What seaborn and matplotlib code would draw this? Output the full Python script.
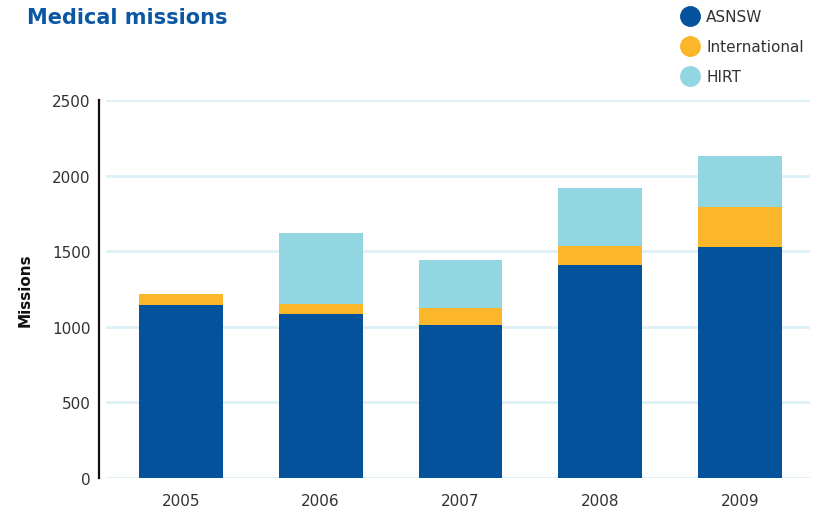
import numpy as np
import pandas as pd
import matplotlib
matplotlib.use('Agg')
import matplotlib.pyplot as plt
from matplotlib.lines import Line2D
import seaborn as sns

# ---------------- data ----------------
years = ['2005', '2006', '2007', '2008', '2009']
asnsw = [1145, 1085, 1012, 1410, 1528]
international = [72, 66, 112, 124, 266]
hirt = [0, 469, 318, 384, 336]

series_names = ['ASNSW', 'International', 'HIRT']
colors = ['#03529b', '#fbb629', '#92d6e2']
title_color = '#0b57a4'
grid_color = '#dcf0f5'
text_color = '#333333'

df = pd.DataFrame({'year': years, 'ASNSW': asnsw,
                   'International': international, 'HIRT': hirt})
df['cum_asnsw'] = df['ASNSW']
df['cum_int'] = df['ASNSW'] + df['International']
df['cum_hirt'] = df['cum_int'] + df['HIRT']

# ---------------- plotting ----------------
sns.set_style('white')
plt.rcParams['font.family'] = ['DejaVu Sans']

fig = plt.figure(figsize=(8.14, 5.10), dpi=100)
ax = fig.add_axes([106 / 814, 1 - 479 / 510, 704 / 814, 378 / 510])

# stacked bars: draw totals first, then overlay lower segments
for col, c in zip(['cum_hirt', 'cum_int', 'cum_asnsw'], colors[::-1]):
    sns.barplot(data=df, x='year', y=col, color=c, width=0.6,
                saturation=1, ax=ax, zorder=3, linewidth=0, edgecolor='none')

ax.set_ylim(0, 2500)
ax.set_xlim(-0.535, 4.5)
ax.set_yticks(np.arange(0, 2501, 500))
ax.yaxis.grid(True, color=grid_color, linewidth=2, zorder=0)
ax.set_axisbelow(True)

# spines
for s in ['top', 'right', 'bottom']:
    ax.spines[s].set_visible(False)
ax.spines['left'].set_position(('outward', 5))
ax.spines['left'].set_color('#111111')
ax.spines['left'].set_linewidth(1.6)

ax.tick_params(axis='y', length=0, pad=6, labelsize=11, labelcolor=text_color)
ax.tick_params(axis='x', length=0, pad=11, labelsize=11, labelcolor=text_color)
ax.set_xlabel('')
ax.set_ylabel('Missions', fontsize=11, fontweight='bold', color='#111111', labelpad=14)

fig.text(27 / 814, 1 - 18 / 510, 'Medical missions', fontsize=15,
         fontweight='bold', color=title_color, va='center', ha='left')

handles = [Line2D([], [], marker='o', linestyle='', markersize=14,
                  markerfacecolor=c, markeredgecolor=c) for c in colors]
fig.legend(handles, series_names, loc='upper left',
           bbox_to_anchor=(675 / 814, 1 - 10 / 510), frameon=False, fontsize=11,
           handletextpad=0.05, labelspacing=0.98, labelcolor=text_color,
           borderaxespad=0, borderpad=0)

plt.savefig('out.png', dpi=100)
